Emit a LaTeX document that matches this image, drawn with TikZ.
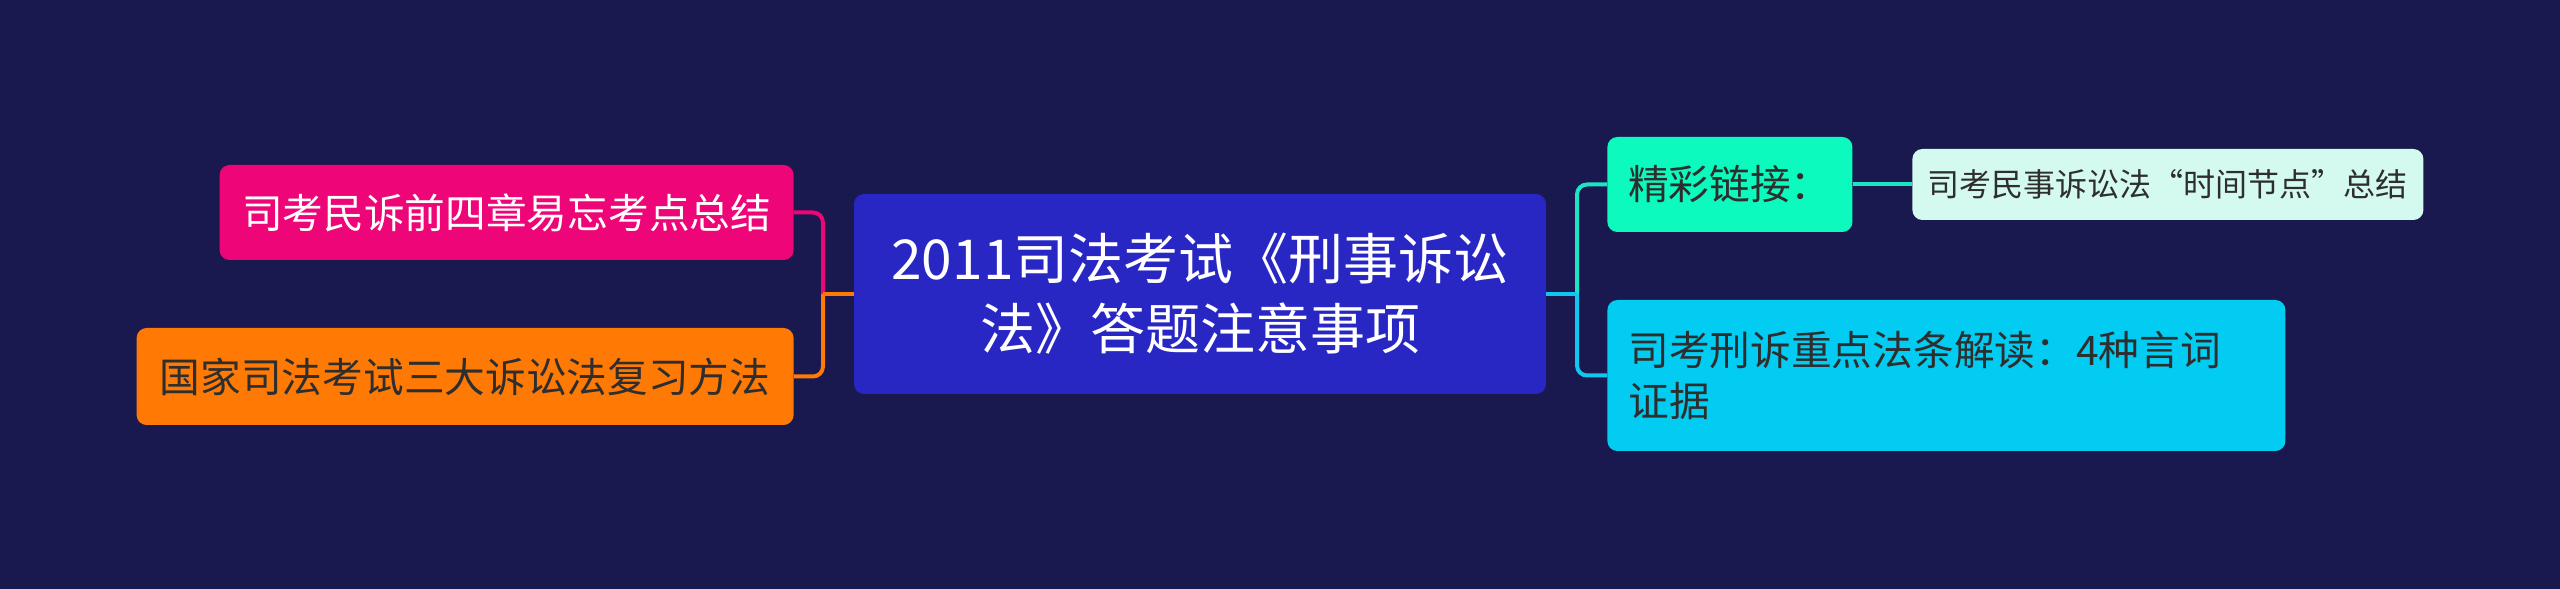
\documentclass[tikz,border=0pt]{standalone}
\usepackage{fontspec}
\setmainfont{Noto Sans CJK SC}
\usetikzlibrary{positioning}

\definecolor{bgnavy}{HTML}{19184F}
\definecolor{ctrblue}{HTML}{2927C4}
\definecolor{minsupink}{HTML}{EE0678}
\definecolor{fforange}{HTML}{FF7A05}
\definecolor{jcgreen}{HTML}{0CFABE}
\definecolor{sjmint}{HTML}{D4FAF0}
\definecolor{xscyan}{HTML}{02CCF2}
\definecolor{tealline}{HTML}{1CE6C2}
\definecolor{cyanline}{HTML}{12C6F0}
\definecolor{darktext}{HTML}{2E2E2E}

\tikzset{
	box/.style={rounded corners=5pt, inner sep=0pt, anchor=center},
	big/.style={font=\fontsize{20.35pt}{25.5pt}\selectfont},
	link/.style={line width=2pt}
}

\begin{document}
\begin{tikzpicture}[x=1pt,y=1pt]
			%%%%% START %%%%%
			
			\fill[bgnavy] (0, 0) rectangle (1280, 294.5);
			\useasboundingbox (0, 0) rectangle (1280, 294.5);
			
			\node[box, fill=ctrblue, text=white, minimum width=346pt, minimum height=100pt, align=center,
				font=\fontsize{27.5pt}{35pt}\selectfont] (ctr) at (600, 147.5)
				{2011司法考试《刑事诉讼\\法》答题注意事项};
			
			\node[box, big, fill=minsupink, text=white, minimum width=287pt, minimum height=47.5pt, anchor=east]
				(minsu) at (397, 188.25) {司考民诉前四章易忘考点总结};
			\node[box, big, fill=fforange, text=darktext, minimum width=328.5pt, minimum height=48.5pt, anchor=east]
				(fangfa) at (397, 106.25) {国家司法考试三大诉讼法复习方法};
			
			\node[box, big, fill=jcgreen, text=darktext, minimum width=122.5pt, minimum height=47.5pt, anchor=west]
				(jingcai) at (803.5, 202.25) {精彩链接：};
			\node[box, fill=sjmint, text=darktext, minimum width=255.5pt, minimum height=35.5pt, anchor=west,
				font=\fontsize{16pt}{20pt}\selectfont] (shijian) at (956, 202.25) {司考民事诉讼法“时间节点”总结};
			\node[box, big, fill=xscyan, text=darktext, text width=318pt, inner xsep=10.5pt, minimum height=75.5pt,
				align=left, anchor=west] (xingsu) at (803.5, 106.75) {司考刑诉重点法条解读：4种言词\\证据};
			
			\coordinate (jl) at (411.5, 147.5);
			\coordinate (jr) at (788.5, 147.5);
			
			\draw[link, minsupink, rounded corners=5pt] (minsu.east) -| (jl);
			\draw[link, fforange, rounded corners=5pt] (fangfa.east) -| (jl);
			\draw[link, fforange] (jl) -- (ctr.west);
			
			\draw[link, tealline, rounded corners=5pt] (jr) |- (jingcai.west);
			\draw[link, cyanline, rounded corners=5pt] (jr) |- (xingsu.west);
			\draw[link, cyanline] (ctr.east) -- (jr);
			\draw[link, tealline] (jingcai.east) -- (shijian.west);
			
			%%%%% END %%%%%
\end{tikzpicture}
\end{document}
